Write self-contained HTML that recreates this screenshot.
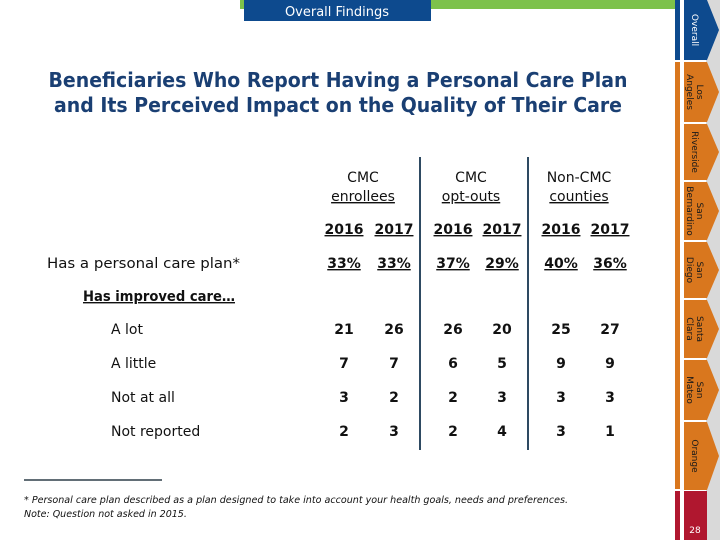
<!DOCTYPE html>
<html><head><meta charset="utf-8"><style>
html,body{margin:0;padding:0;background:#fff;width:720px;height:540px;overflow:hidden}
svg{display:block}
text{font-family:"DejaVu Sans","Liberation Sans",sans-serif}
</style></head><body>
<svg width="720" height="540" viewBox="0 0 720 540">
<rect x="0" y="0" width="720" height="540" fill="#fff"/>
<rect x="240" y="0" width="435" height="9" fill="#7dc24b"/>
<rect x="244" y="0" width="187" height="21" fill="#0d4a8e"/>
<text x="337" y="16" text-anchor="middle" font-size="13" fill="#fff">Overall Findings</text>
<text x="338" y="87" text-anchor="middle" font-size="20" font-weight="bold" fill="#1a3f73" textLength="579" lengthAdjust="spacingAndGlyphs">Beneficiaries Who Report Having a Personal Care Plan</text>
<text x="338" y="112" text-anchor="middle" font-size="20" font-weight="bold" fill="#1a3f73" textLength="568" lengthAdjust="spacingAndGlyphs">and Its Perceived Impact on the Quality of Their Care</text>
<rect x="706" y="0" width="14" height="540" fill="#d9d9d9"/>
<g id="sidebar"></g>
<line x1="420" y1="157" x2="420" y2="450" stroke="#2e4a62" stroke-width="2"/>
<line x1="528" y1="157" x2="528" y2="450" stroke="#2e4a62" stroke-width="2"/>
<g id="table" font-weight="bold" fill="#111"></g>
<line x1="24" y1="480" x2="162" y2="480" stroke="#2e3e48" stroke-width="1.5"/>
<text x="24" y="503" font-size="9.5" font-style="italic" fill="#111" textLength="544" lengthAdjust="spacingAndGlyphs">* Personal care plan described as a plan designed to take into account your health goals, needs and preferences.</text>
<text x="24" y="517" font-size="9.5" font-style="italic" fill="#111">Note: Question not asked in 2015.</text>
</svg>
<script>
const groups=[["CMC","enrollees"],["CMC","opt-outs"],["Non-CMC","counties"]];
const years=["2016","2017"];
const planPct=["33%","33%","37%","29%","40%","36%"];
const rowLabels=["A lot","A little","Not at all","Not reported"];
const rowAlot=[21,26,26,20,25,27];
const rowLittle=[7,7,6,5,9,9];
const rowNotAtAll=[3,2,2,3,3,3];
const rowNotReported=[2,3,2,4,3,1];
const tabs=[["Overall"],["Los","Angeles"],["Riverside"],["San","Bernardino"],["San","Diego"],["Santa","Clara"],["San","Mateo"],["Orange"]];
const NS="http://www.w3.org/2000/svg";
function mk(tag,attrs,parent,txt){const e=document.createElementNS(NS,tag);for(const k in attrs)e.setAttribute(k,attrs[k]);if(txt!==undefined)e.textContent=txt;parent.appendChild(e);return e;}
const T=document.getElementById('table');
const colX=[344,394,453,502,561,610];
const groupX=[363,471,579];
groups.forEach((g,i)=>{
  const a=mk('text',{x:groupX[i],y:182,'text-anchor':'middle','font-size':14,'font-weight':'normal'},T,g[0]);
  
  
  const b=mk('text',{x:groupX[i],y:201,'text-anchor':'middle','font-size':14,'font-weight':'normal','text-decoration':'underline'},T,g[1]);
  
  
});
colX.forEach((x,i)=>{
  const y=mk('text',{x:x,y:234,'text-anchor':'middle','font-size':14,'text-decoration':'underline'},T,years[i%2]);
  
  
  const p=mk('text',{x:x,y:268,'text-anchor':'middle','font-size':14,'text-decoration':'underline'},T,planPct[i]);
  
  
});
const l1=mk('text',{x:47,y:268,'font-size':14,'font-weight':'normal',textLength:193,lengthAdjust:'spacingAndGlyphs'},T,"Has a personal care plan*");


const l2=mk('text',{x:83,y:301,'font-size':14,'text-decoration':'underline',textLength:152,lengthAdjust:'spacingAndGlyphs'},T,"Has improved care\u2026");


const rows=[rowAlot,rowLittle,rowNotAtAll,rowNotReported];
const rowY=[334,368,402,436];
rows.forEach((r,ri)=>{
  const lab=mk('text',{x:111,y:rowY[ri],'font-size':14,'font-weight':'normal'},T,rowLabels[ri]);
  
  
  r.forEach((v,ci)=>{
    const c=mk('text',{x:colX[ci],y:rowY[ri],'text-anchor':'middle','font-size':14},T,String(v));
    
    
  });
});
const S=document.getElementById('sidebar');
const bounds=[0,60,122,180,240,298,358,420,490];
const stripA=mk('rect',{x:675,y:0,width:5,height:60,fill:'#0d4a8e'},S);


const stripB=mk('rect',{x:675,y:62,width:5,height:427,fill:'#d9771e'},S);


const stripC=mk('rect',{x:675,y:491,width:5,height:49,fill:'#b0172f'},S);


tabs.forEach((t,i)=>{
  const y0=bounds[i]+(i?2:0),y1=bounds[i+1];
  const mid=(y0+y1)/2;
  const col=i===0?'#0d4a8e':'#d9771e';
  const poly=mk('polygon',{points:`684,${y0} 707,${y0} 719,${mid} 707,${y1} 684,${y1}`,fill:col},S);
  
  
  const g=mk('g',{transform:`translate(695,${mid}) rotate(90)`},S);
  const fill=i===0?'#fff':'#1a1a1a';
  if(t.length===1){
    const tx=mk('text',{x:0,y:3,'text-anchor':'middle','font-size':9,fill:fill},g,t[0]);
    
    
  } else {
    t.forEach((s,k)=>{
      const tx=mk('text',{x:0,y:-2+k*10,'text-anchor':'middle','font-size':9,fill:fill},g,s);
      
      
    });
  }
});
const red=mk('rect',{x:684,y:491,width:23,height:49,fill:'#b0172f'},S);


const pn=mk('text',{x:695,y:533,'text-anchor':'middle','font-size':9,fill:'#fff'},S,"28");


</script>
</body></html>
